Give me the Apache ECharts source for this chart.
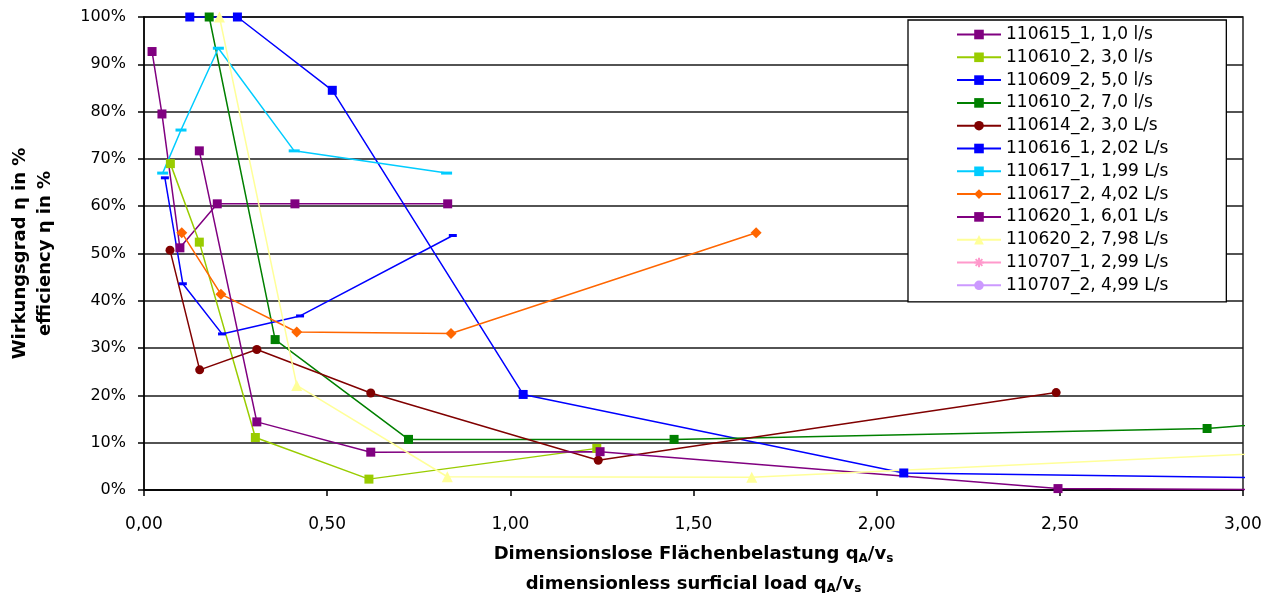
<!DOCTYPE html>
<html>
<head>
<meta charset="utf-8">
<script src="https://cdn.jsdelivr.net/npm/echarts@6/dist/echarts.min.js"></script>
<style>
  html, body { margin: 0; padding: 0; background: #fff; }
  #chart { width: 1278px; height: 596px; }
</style>
</head>
<body>
<div id="chart"></div>
<script>
// x = dimensionless surficial load qA/vs, y = efficiency in %
var seriesNames = ['110615_1, 1,0 l/s', '110610_2, 3,0 l/s', '110609_2, 5,0 l/s', '110610_2, 7,0 l/s',
  '110614_2, 3,0 L/s', '110616_1, 2,02 L/s', '110617_1, 1,99 L/s', '110617_2, 4,02 L/s',
  '110620_1, 6,01 L/s', '110620_2, 7,98 L/s', '110707_1, 2,99 L/s', '110707_2, 4,99 L/s'];

var s110615_1 = [[0.022, 92.7], [0.049, 79.5], [0.098, 51.2], [0.200, 60.5], [0.412, 60.5], [0.829, 60.5]];
var s110610_2a = [[0.072, 69.0], [0.151, 52.4], [0.304, 11.1], [0.614, 2.3], [1.236, 8.8]];
var s110609_2 = [[0.125, 100], [0.255, 100], [0.514, 84.5], [1.035, 20.2], [2.074, 3.6], [4.1, 1.5]];
var s110610_2b = [[0.178, 100], [0.358, 31.8], [0.722, 10.7], [1.447, 10.7], [2.902, 13.0], [3.6, 17.3]];
var s110614_2 = [[0.071, 50.7], [0.152, 25.4], [0.308, 29.7], [0.619, 20.5], [1.240, 6.3], [2.490, 20.6]];
var s110616_1 = [[0.057, 66.0], [0.106, 43.6], [0.213, 33.0], [0.426, 36.8], [0.843, 53.8]];
var s110617_1 = [[0.051, 67.0], [0.101, 76.1], [0.203, 93.4], [0.410, 71.7], [0.826, 67.0]];
var s110617_2 = [[0.103, 54.4], [0.210, 41.4], [0.417, 33.4], [0.838, 33.1], [1.671, 54.4]];
var s110620_1 = [[0.151, 71.7], [0.308, 14.4], [0.619, 8.0], [1.245, 8.1], [2.495, 0.3], [3.3, 0]];
var s110620_2 = [[0.206, 100], [0.417, 22.1], [0.828, 2.8], [1.659, 2.7], [3.32, 8.7]];
var s110707_1 = [];
var s110707_2 = [];

var allData = [s110615_1, s110610_2a, s110609_2, s110610_2b, s110614_2, s110616_1,
  s110617_1, s110617_2, s110620_1, s110620_2, s110707_1, s110707_2];

var colors = ['#800080', '#99CC00', '#0000FF', '#008000', '#800000', '#0000FF',
  '#00CCFF', '#FF6600', '#800080', '#FFFF99', '#FF99CC', '#CC99FF'];
var symbols = ['rect', 'rect', 'rect', 'rect', 'circle',
  'path://M0,0L8,0L8,3L0,3Z', 'path://M0,0L11,0L11,3L0,3Z',
  'diamond', 'rect', 'triangle',
  'path://M0,5L10,5M5,0L5,10M1.5,1.5L8.5,8.5M8.5,1.5L1.5,8.5', 'circle'];
var symbolSizes = [9, 9, 9, 9, 9, 8, 11, 11, 9, 11, 9, 9];

var font = 'DejaVu Sans, sans-serif';

var chart = echarts.init(document.getElementById('chart'));

var series = allData.map(function (d, i) {
  return {
    name: seriesNames[i],
    type: 'line',
    data: d,
    symbol: symbols[i],
    symbolSize: symbolSizes[i],
    symbolKeepAspect: true,
    showAllSymbol: true,
    clip: true,
    color: colors[i],
    lineStyle: { width: 1.5, color: colors[i] },
    itemStyle: { color: colors[i], borderColor: colors[i], borderWidth: i === 10 ? 1.5 : 0 }
  };
});

var option = {
  animation: false,
  backgroundColor: '#fff',
  textStyle: { fontFamily: font },
  grid: {
    left: 144, right: 35, top: 17, bottom: 106,
    outerBoundsMode: 'none',
    containLabel: false,
    show: true, borderColor: '#000', borderWidth: 1.3, backgroundColor: 'transparent'
  },
  legend: {
    orient: 'vertical',
    left: 908,
    top: 20,
    padding: [6, 58, 8, 48],
    itemGap: 5.8,
    itemWidth: 44,
    itemHeight: 12,
    backgroundColor: '#fff',
    borderColor: '#000',
    borderWidth: 1.3,
    data: seriesNames,
    textStyle: { fontSize: 17, color: '#000', fontFamily: font }
  },
  xAxis: {
    type: 'value',
    min: 0,
    max: 3,
    interval: 0.5,
    splitLine: { show: false },
    axisLine: { lineStyle: { color: '#000', width: 1.5 } },
    axisTick: { inside: false, length: 6, lineStyle: { color: '#000', width: 1.5 } },
    axisLabel: {
      margin: 26,
      fontSize: 17,
      color: '#000',
      fontFamily: font,
      formatter: function (v) { return v.toFixed(2).replace('.', ','); }
    },
    nameLocation: 'middle',
    nameGap: 49,
    name: '{b|Dimensionslose Flächenbelastung q}{sub|A}{b|/v}{sub|s}\n{b|dimensionless surficial load q}{sub|A}{b|/v}{sub|s}',
    nameTextStyle: {
      rich: {
        b: { fontSize: 18, fontWeight: 'bold', color: '#000', fontFamily: font, lineHeight: 30 },
        sub: { fontSize: 12, fontWeight: 'bold', color: '#000', fontFamily: font, lineHeight: 30, padding: [10, 0, 0, 0] }
      }
    }
  },
  yAxis: {
    type: 'value',
    min: 0,
    max: 100,
    interval: 10,
    splitLine: { show: true, lineStyle: { color: '#1a1a1a', width: 1.5 } },
    axisLine: { show: true, lineStyle: { color: '#000', width: 1.5 } },
    axisTick: { show: true, length: 6, lineStyle: { color: '#000', width: 1.5 } },
    axisLabel: { margin: 18, fontSize: 16, color: '#000', fontFamily: font, formatter: '{value}%' },
    nameLocation: 'middle',
    nameGap: 86,
    name: 'Wirkungsgrad η in %\nefficiency η in %',
    nameTextStyle: { fontSize: 18, fontWeight: 'bold', color: '#000', fontFamily: font, lineHeight: 25 }
  },
  series: series
};

chart.setOption(option);
</script>
</body>
</html>
